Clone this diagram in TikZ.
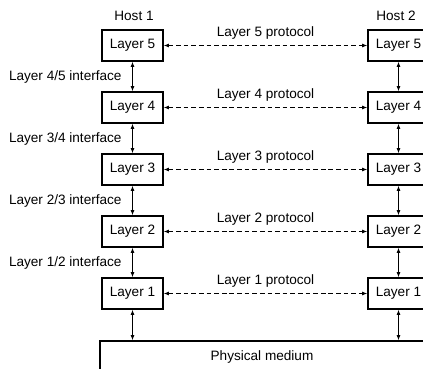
\documentclass[tikz,border=0pt]{standalone}
\usepackage{fontspec}
\setmainfont{Liberation Sans}
\usetikzlibrary{arrows.meta}

\begin{document}
\begin{tikzpicture}[x=0.03cm, y=-0.03cm,
  every node/.style={font=\fontsize{11.6}{14}\selectfont},
  layerbox/.style={draw, line width=1.2pt, minimum width=1.83cm, minimum height=0.93cm, inner sep=0pt},
  iface/.style={{Latex[length=4.5pt,width=3.5pt]}-{Latex[length=4.5pt,width=3.5pt]}, line width=0.8pt},
  proto/.style={iface, dash pattern=on 4pt off 2.5pt}]
\clip (0,0) rectangle (423,369);
\node (host1) at (134,16) {Host 1};
\node (host2) at (396,16) {Host 2};
\foreach \n/\y in {5/45.5, 4/107.5, 3/169.5, 2/231.5, 1/293.5}{
\node[layerbox] (L\n) at (132.5,\y) {Layer \n};
\node[layerbox] (R\n) at (398.5,\y) {Layer \n};
\draw[proto] (L\n) -- (R\n) node[midway, above=1.5pt] {Layer \n\ protocol};
}
\foreach \a/\b in {5/4, 4/3, 3/2, 2/1}{
\draw[iface] (L\a) -- (L\b) node[midway, left=5.6pt] {Layer \b/\a\ interface};
\draw[iface] (R\a) -- (R\b);
}
\node[draw, line width=1.2pt, minimum width=9.72cm, minimum height=0.96cm] (phys) at (262,357) {Physical medium};
\draw[iface] (L1) -- (L1 |- phys.north);
\draw[iface] (R1) -- (R1 |- phys.north);
\end{tikzpicture}
\end{document}
